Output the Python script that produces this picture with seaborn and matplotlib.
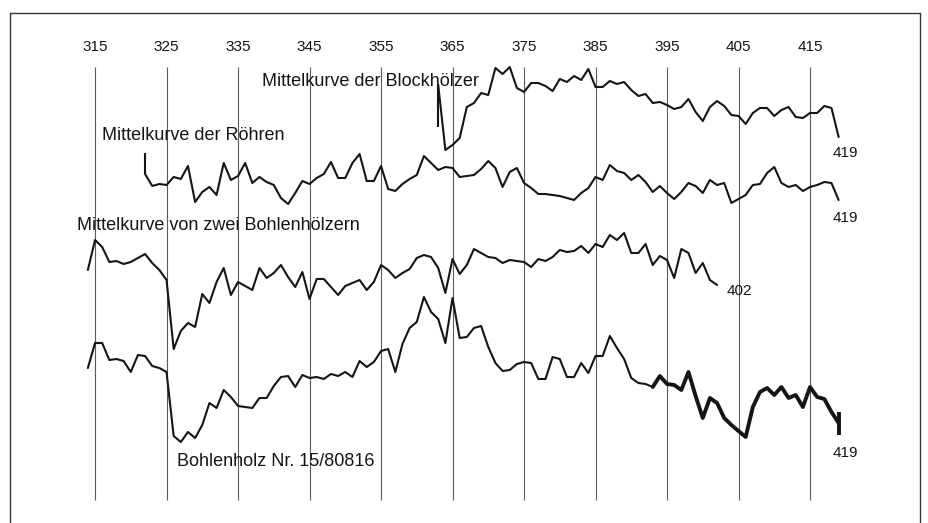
import matplotlib
matplotlib.use("Agg")
import matplotlib.pyplot as plt
from matplotlib.lines import Line2D
import seaborn as sns

decades = [315, 325, 335, 345, 355, 365, 375, 385, 395, 405, 415]

block_years = list(range(363, 420))
block = [85, 150, 145, 138, 107, 103, 93, 95, 68, 74, 67, 88, 92, 83, 83, 86, 91,
         79, 82, 76, 80, 69, 87, 87, 81, 84, 82, 90, 96, 94, 103, 102, 105, 109,
         107, 99, 112, 121, 107, 101, 106, 115, 116, 124, 113, 108, 108, 116, 110,
         107, 117, 118, 113, 113, 106, 108, 137]
block_start = 127

roehren_years = list(range(322, 420))
roehren = [174, 186, 184, 185, 177, 179, 166, 202, 192, 187, 195, 163, 180, 176,
           163, 183, 177, 182, 185, 198, 204, 193, 181, 184, 178, 174, 162, 178,
           178, 163, 154, 181, 181, 166, 189, 191, 184, 179, 175, 156, 163, 170,
           167, 168, 177, 176, 175, 169, 161, 168, 187, 172, 168, 183, 188, 194,
           194, 195, 196, 198, 200, 193, 188, 177, 180, 165, 171, 173, 180, 175,
           182, 192, 186, 193, 199, 192, 183, 186, 193, 180, 185, 183, 203, 199,
           195, 185, 184, 173, 167, 183, 187, 185, 191, 187, 185, 182, 183, 200]
roehren_start = 153

zwei_years = list(range(314, 403))
zwei = [270, 240, 247, 262, 261, 264, 262, 258, 254, 263, 270, 280, 349, 331, 323,
        327, 294, 303, 282, 268, 295, 282, 286, 290, 268, 278, 273, 265, 277, 287,
        272, 299, 279, 279, 287, 295, 286, 283, 280, 290, 282, 265, 270, 278, 273,
        269, 258, 255, 257, 268, 293, 259, 274, 265, 249, 253, 257, 258, 263, 260,
        261, 262, 267, 259, 261, 257, 250, 252, 251, 246, 253, 244, 247, 235, 240,
        233, 253, 253, 244, 265, 256, 260, 278, 249, 253, 273, 263, 280, 285]

bohle_years = list(range(314, 420))
bohle = [368, 343, 343, 360, 359, 361, 372, 355, 356, 366, 368, 372, 436, 442, 432,
         438, 425, 403, 408, 390, 397, 406, 407, 408, 398, 398, 386, 377, 376, 387,
         375, 378, 377, 379, 374, 376, 372, 377, 361, 367, 362, 351, 349, 372, 344,
         328, 322, 297, 312, 319, 343, 298, 338, 337, 328, 326, 347, 363, 371, 370,
         364, 362, 363, 379, 379, 357, 359, 377, 377, 363, 373, 356, 356, 336, 348,
         359, 378, 383, 384, 387, 376, 384, 385, 390, 372, 396, 418, 398, 403, 418,
         425, 431, 437, 407, 392, 388, 395, 387, 398, 395, 407, 387, 397, 399, 412,
         423]
bohle_thick_from = 393
bohle_end_bar = (412, 435)

sns.set_style("white")
plt.rcParams['font.family'] = ['Liberation Sans', 'DejaVu Sans']

fig = plt.figure(figsize=(9.29, 5.23), dpi=100)
ax = fig.add_axes([0, 0, 1, 1])
ax.set_xlim(301.71, 431.64)
ax.set_ylim(523, 0)
ax.axis('off')

ink = '#151515'
thin = 1.5
num_size = 11

# senkrechte Jahrzehntlinien mit Beschriftung
ax.vlines(decades, 67, 500, color='#5a5a5a', lw=0.8)
for d in decades:
    ax.text(d, 47, str(d), ha='center', va='center', fontsize=num_size, color=ink)

# Mittelkurve der Blockhoelzer
sns.lineplot(x=block_years, y=block, ax=ax, color=ink, lw=thin, sort=False)
ax.vlines(block_years[0], block[0], block_start, color=ink, lw=thin)
ax.text(block_years[-1] + 1, block[-1] + 16, '419', ha='center', va='center',
        fontsize=num_size, color=ink)
ax.text(338.4, 81, 'Mittelkurve der Blockhölzer', ha='left', va='center',
        fontsize=13, color=ink)

# Mittelkurve der Roehren
sns.lineplot(x=roehren_years, y=roehren, ax=ax, color=ink, lw=thin, sort=False)
ax.vlines(roehren_years[0], roehren_start, roehren[0], color=ink, lw=thin)
ax.text(roehren_years[-1] + 1, roehren[-1] + 18, '419', ha='center', va='center',
        fontsize=num_size, color=ink)
ax.text(316.0, 135, 'Mittelkurve der Röhren', ha='left', va='center',
        fontsize=13, color=ink)

# Mittelkurve von zwei Bohlenhoelzern
sns.lineplot(x=zwei_years, y=zwei, ax=ax, color=ink, lw=thin, sort=False)
ax.text(zwei_years[-1] + 1.3, zwei[-1] + 6, '402', ha='left', va='center',
        fontsize=num_size, color=ink)
ax.text(312.5, 225, 'Mittelkurve von zwei Bohlenhölzern', ha='left', va='center',
        fontsize=13, color=ink)

# Bohlenholz Nr. 15/80816 (letzter Abschnitt kraeftig)
k = bohle_years.index(bohle_thick_from)
sns.lineplot(x=bohle_years[:k + 1], y=bohle[:k + 1], ax=ax, color=ink, lw=thin, sort=False)
sns.lineplot(x=bohle_years[k:], y=bohle[k:], ax=ax, color=ink, lw=2.8, sort=False)
ax.vlines(bohle_years[-1], bohle_end_bar[0], bohle_end_bar[1], color=ink, lw=2.8)
ax.text(bohle_years[-1] + 1, bohle[-1] + 30, '419', ha='center', va='center',
        fontsize=num_size, color=ink)
ax.text(326.5, 461, 'Bohlenholz Nr. 15/80816', ha='left', va='center',
        fontsize=13, color=ink)

# Rahmen
fw, fh = 929, 523
for xs, ys in [((10, 10), (0, 13)), ((10, 920), (13, 13)), ((920, 920), (13, 0))]:
    fig.add_artist(Line2D([x / fw for x in xs], [1 - y / fh if y else 0 for y in ys],
                          color='#333333', lw=1.0))

fig.savefig('out.png', dpi=100)
